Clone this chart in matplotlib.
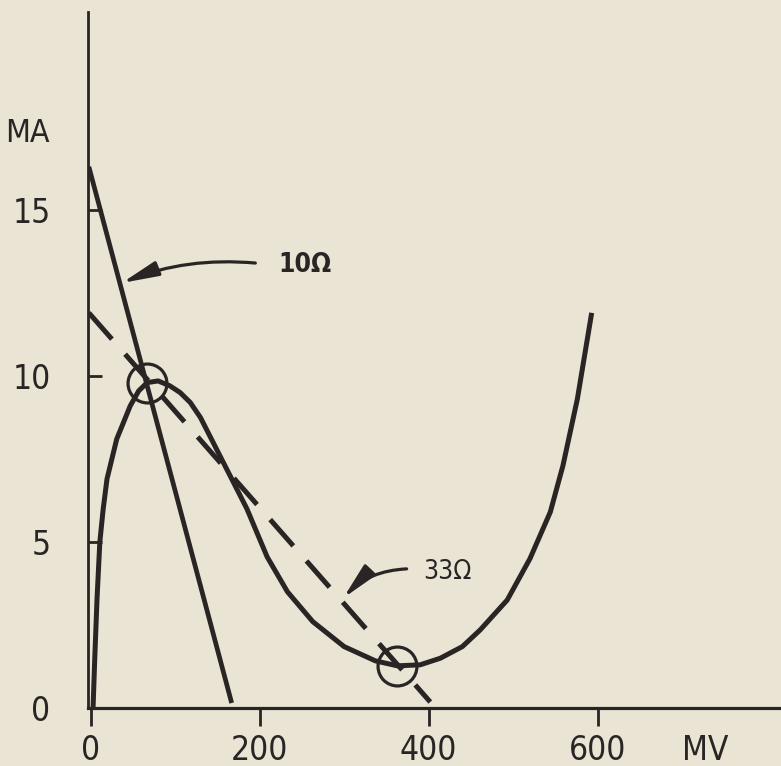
import matplotlib
matplotlib.use("Agg")
import matplotlib.pyplot as plt

# tunnel diode characteristic (mV, mA)
diode_mv = [3, 5, 7.7, 11, 15, 19.5, 31, 47, 57, 67, 80, 94, 106, 118, 130, 141,
            165, 185, 209, 233, 263, 300, 337, 363, 390, 414, 440, 461, 493, 520,
            544, 559, 576, 593]
diode_ma = [0, 1.5, 3.3, 5.0, 6.0, 6.9, 8.1, 9.1, 9.55, 9.8, 9.85, 9.7, 9.5, 9.2, 8.75, 8.2,
            7.0, 6.0, 4.55, 3.5, 2.6, 1.85, 1.42, 1.27, 1.3, 1.5, 1.85, 2.35, 3.25, 4.5,
            5.9, 7.3, 9.3, 11.9]

# load lines
load10_mv = [-2, 167]
load10_ma = [16.3, 0.15]
load33_mv = [-2, 402]
load33_ma = [11.9, 0.18]

# operating points (circled)
op_mv = [67, 363]
op_ma = [9.8, 1.25]

xticks = [0, 200, 400, 600]
yticks = [0, 5, 10, 15]

bg = '#e9e4d4'
ink = '#2b2424'
plt.rcParams['font.family'] = ['DejaVu Sans']
plt.rcParams['font.stretch'] = 'condensed'

fig = plt.figure(figsize=(7.81, 7.66), dpi=100, facecolor=bg)
ax = fig.add_axes([88/781, 58/766, 693/781, 696/766], facecolor=bg)

ax.plot(diode_mv, diode_ma, color=ink, lw=3.6, solid_capstyle='butt', solid_joinstyle='round')
ax.plot(load10_mv, load10_ma, color=ink, lw=3.4, solid_capstyle='butt')
ax.plot(load33_mv, load33_ma, color=ink, lw=3.6, dashes=(7, 4), dash_capstyle='butt')
ax.plot(op_mv, op_ma, 'o', ms=28, mfc='none', mec=ink, mew=2.3)

arrow = dict(arrowstyle='-|>,head_length=2.2,head_width=0.45', lw=2.3, color=ink,
             shrinkA=0, shrinkB=0, mutation_scale=10)
ax.annotate('', xy=(37, 12.8), xytext=(195, 13.4),
            arrowprops=dict(arrow, connectionstyle='arc3,rad=0.12'))
ax.annotate('', xy=(299, 3.31), xytext=(374, 4.19),
            arrowprops=dict(arrow, connectionstyle='arc3,rad=0.2'))
ax.text(254, 13.34, '10\u03a9', fontsize=19, fontweight='bold', color=ink, ha='center', va='center')
ax.text(422, 4.1, '33\u03a9', fontsize=19, color=ink, ha='center', va='center')

ax.set_xlim(-3, 817)
ax.set_ylim(0, 20.96)
ax.set_xticks(xticks)
ax.set_yticks(yticks)
ax.tick_params(axis='x', direction='out', length=13, width=2, colors=ink, labelsize=24, pad=6)
ax.tick_params(axis='y', direction='in', length=10, width=2, colors=ink, labelsize=24, pad=27)

for s in ['top', 'right']:
    ax.spines[s].set_visible(False)
ax.spines['left'].set_linewidth(2)
ax.spines['bottom'].set_linewidth(2.3)
ax.spines['left'].set_color(ink)
ax.spines['bottom'].set_color(ink)

fig.text(27/781, 1 - 133/766, 'MA', fontsize=23, color=ink, ha='center', va='center')
fig.text(705/781, 1 - 750/766, 'MV', fontsize=24, color=ink, ha='center', va='center')

fig.savefig('out.png', dpi=100, facecolor=bg)
